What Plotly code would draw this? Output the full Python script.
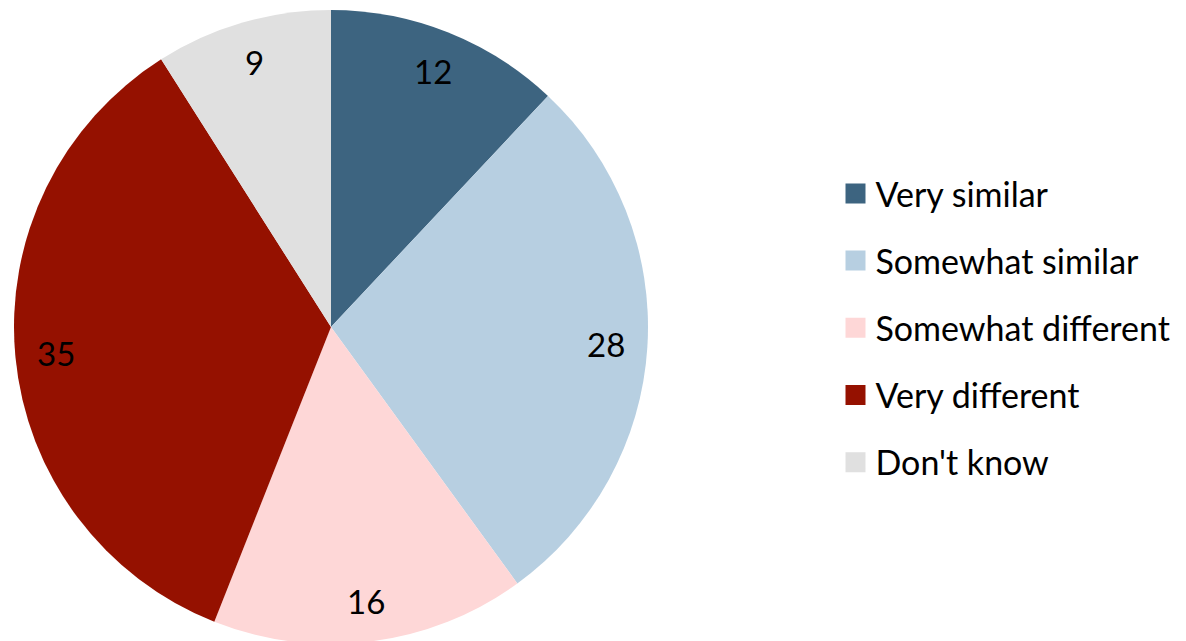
import math
import plotly.graph_objects as go

categories = ["Very similar", "Somewhat similar", "Somewhat different", "Very different", "Don't know"]
values = [12, 28, 16, 35, 9]
colors = ["#3D6480", "#B7CFE1", "#FED7D7", "#951100", "#E0E0E0"]

W, H = 1186, 641
ML, MR, MT, MB = 0, 0, 2, 5
PW, PH = W - ML - MR, H - MT - MB
CX, CY, R = 323, 319, 317  # pixel centre / radius of pie within the figure
FONT = "Lato"

fig = go.Figure()
fig.add_trace(go.Pie(
    labels=categories, values=values, sort=False, direction="clockwise",
    marker=dict(colors=colors, line=dict(width=0)),
    textinfo="none", hoverinfo="label+value", showlegend=False,
    domain=dict(x=[(CX - R) / PW, (CX + R) / PW], y=[0, 1]),
))

# legend entries as dummy traces (each in its own group for spacing)
for cat, col in zip(categories, colors):
    fig.add_trace(go.Scatter(
        x=[None], y=[None], mode="markers", name=cat, legendgroup=cat,
        marker=dict(symbol="square", size=16, color=col, line=dict(color=col, width=4)),
    ))

# value labels placed at slice mid-angles
total = sum(values)
cum = 0
for v in values:
    mid = (cum + v / 2) / total * 2 * math.pi
    cum += v
    px = CX + 0.87 * R * math.sin(mid)
    py = CY - 0.87 * R * math.cos(mid)
    fig.add_annotation(
        x=(px - ML) / PW, y=(PH - (py - MT)) / PH, xref="paper", yref="paper",
        xanchor="center", yanchor="middle",
        text=str(v), showarrow=False, font=dict(family=FONT, size=33, color="black"),
    )

fig.update_layout(
    width=W, height=H, margin=dict(l=ML, r=MR, t=MT, b=MB),
    paper_bgcolor="white", plot_bgcolor="white",
    xaxis=dict(visible=False), yaxis=dict(visible=False),
    font=dict(family=FONT, size=34, color="black"),
    legend=dict(x=827.5 / PW, y=0.7558, xanchor="left", yanchor="top",
                tracegroupgap=20, font=dict(family=FONT, size=34, color="black"),
                bgcolor="rgba(0,0,0,0)"),
)
fig.write_html("out.html")
